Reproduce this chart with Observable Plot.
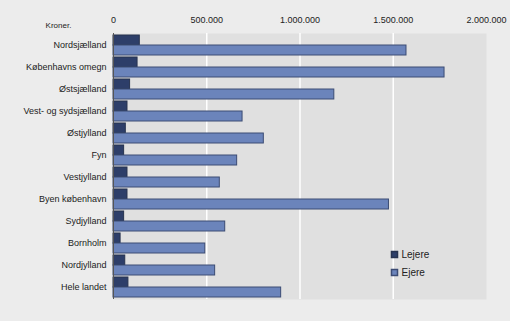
<!DOCTYPE html>
<html><head><meta charset="utf-8">
<script src="https://cdn.jsdelivr.net/npm/d3@7"></script>
<script src="https://cdn.jsdelivr.net/npm/@observablehq/plot@0.6"></script>
<style>
html,body{margin:0;padding:0;background:#ececec;}
#chart svg{display:block;}
</style>
</head><body><div id="chart"></div>
<script>
const categories = ["Nordsjælland","Københavns omegn","Østsjælland","Vest- og sydsjælland","Østjylland","Fyn","Vestjylland","Byen københavn","Sydjylland","Bornholm","Nordjylland","Hele landet"];
const lejere = [141000,129000,89000,75000,66000,57000,75000,75000,57000,38000,63000,80000];
const ejere = [1571000,1775000,1184000,692000,806000,663000,570000,1477000,599000,492000,545000,899000];
const series = ["Lejere","Ejere"];
const colors = ["#2d3e69","#6b84bb"];
const xTicks = [0,500000,1000000,1500000,2000000];
const unitLabel = "Kroner.";

const rows = [];
categories.forEach((c,i)=>{
  rows.push({cat:c, series:"Lejere", value:lejere[i]});
  rows.push({cat:c, series:"Ejere", value:ejere[i]});
});
const loc = d3.formatLocale({thousands:".", grouping:[3], decimal:",", currency:["",""]});
const fmt = loc.format(",d");
const font = "Liberation Sans, Arial, sans-serif";

const chart = Plot.plot({
  width:510, height:321,
  marginLeft:113, marginRight:24, marginTop:33, marginBottom:22,
  style:{fontFamily:font, fontSize:"9px", background:"#ececec", color:"#222"},
  x:{domain:[0,2000000], axis:"top", ticks:xTicks, tickFormat:fmt, tickSize:0, tickPadding:11, label:null},
  y:{domain:categories, paddingInner:0.1, paddingOuter:0.05, tickSize:0, tickPadding:7, label:null},
  marks:[
    Plot.frame({fill:"#e0e0e0", stroke:null}),
    Plot.ruleX(xTicks.filter(d=>d>0 && d<2000000), {stroke:"#ffffff", strokeWidth:1.5}),
    Plot.barX(rows.filter(d=>d.series==="Lejere"), {x:"value", y:"cat", fill:colors[0], stroke:"#27334f", strokeWidth:1, insetBottom:10}),
    Plot.barX(rows.filter(d=>d.series==="Ejere"), {x:"value", y:"cat", fill:colors[1], stroke:"#3c4c74", strokeWidth:1, insetTop:10}),
    Plot.ruleX([0], {stroke:"#555", strokeWidth:1}),
    Plot.text([unitLabel], {frameAnchor:"top-left", dx:-55, dy:-8, lineAnchor:"middle", text:d=>d, fontSize:8, textAnchor:"middle", fill:"#222"}),
    Plot.dot([series[0]], {frameAnchor:"bottom-right", dx:-92, dy:-45, symbol:"square", r:3.4, fill:colors[0], stroke:"#27334f"}),
    Plot.dot([series[1]], {frameAnchor:"bottom-right", dx:-92, dy:-27, symbol:"square", r:3.4, fill:colors[1], stroke:"#3c4c74"}),
    Plot.text([series[0]], {frameAnchor:"bottom-right", dx:-85, dy:-45, lineAnchor:"middle", text:d=>d, textAnchor:"start", fontSize:10, fill:"#222"}),
    Plot.text([series[1]], {frameAnchor:"bottom-right", dx:-85, dy:-27, lineAnchor:"middle", text:d=>d, textAnchor:"start", fontSize:10, fill:"#222"})
  ]
});
document.getElementById("chart").appendChild(chart);
</script>
</body></html>
